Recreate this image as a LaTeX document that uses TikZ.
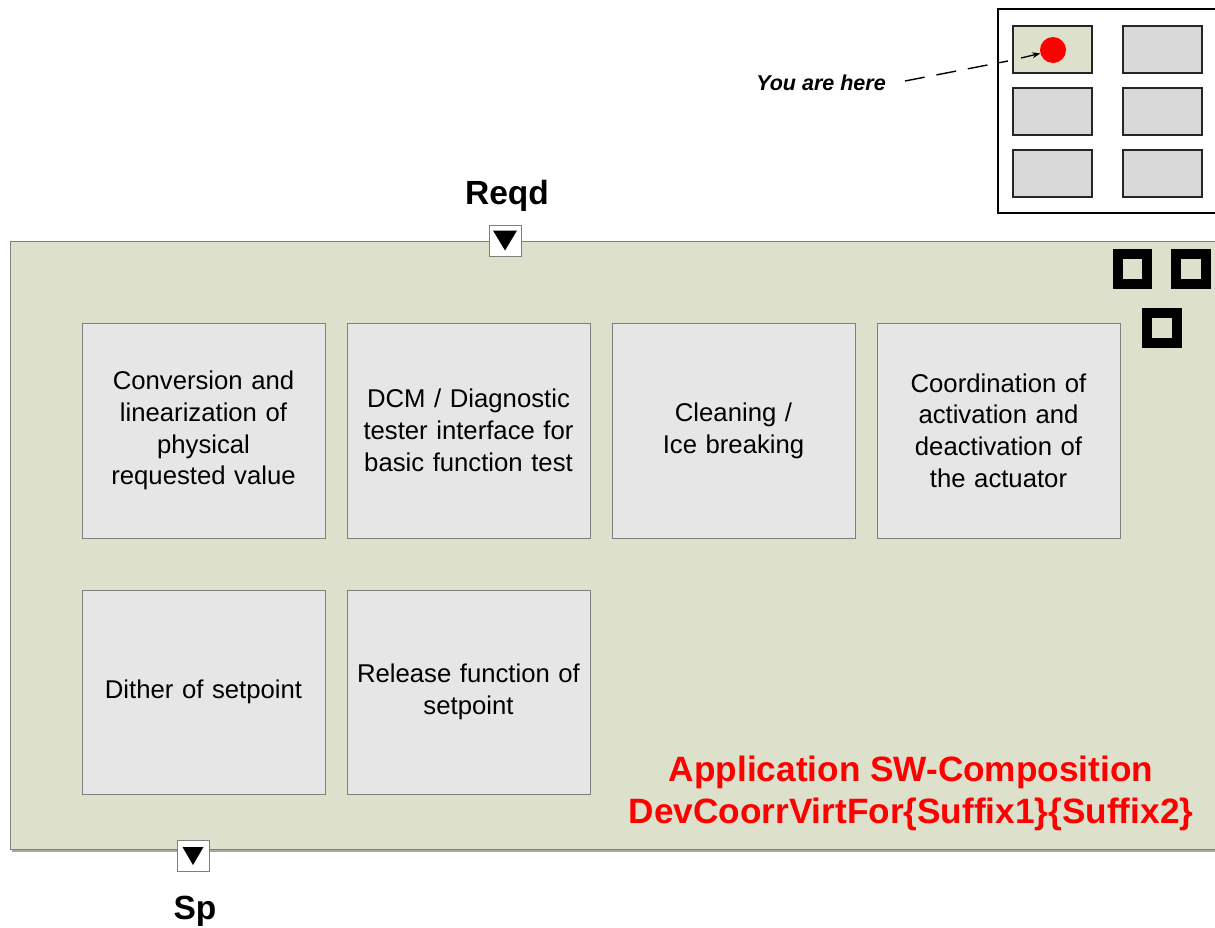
\documentclass[tikz,border=0pt]{standalone}
\usepackage{fontspec}
\setmainfont{Liberation Sans}
\usetikzlibrary{arrows.meta}
\definecolor{compfill}{HTML}{DDE1CC}
\definecolor{boxfill}{HTML}{E6E6E6}
\definecolor{boxline}{HTML}{7F7F7F}
\definecolor{minifill}{HTML}{D9D9D9}
\definecolor{shadowc}{HTML}{A8AAA0}
\definecolor{redtext}{HTML}{FF0000}
\begin{document}
\begin{tikzpicture}[x=1pt,y=-1pt,
  funcbox/.style={draw=boxline, fill=boxfill, line width=1pt, minimum width=243pt,
    text width=232pt, align=center, inner sep=0pt,
    font=\fontsize{25.7}{31.7}\selectfont},
  portbox/.style={draw=boxline, fill=white, line width=1pt, minimum width=32pt, minimum height=31pt, inner sep=0pt},
  minibox/.style={draw=black!85, line width=2pt, fill=minifill, minimum width=79pt, minimum height=47pt, inner sep=0pt},
  portlabel/.style={font=\fontsize{33.5}{40}\selectfont\bfseries},
  hollowsq/.style={draw=black, line width=10pt}
]
\useasboundingbox (0,0) rectangle (1215,927);
\clip (0,0) rectangle (1215,927);

% composition
\fill[shadowc] (12,244) rectangle (1240,852);
\draw[draw=boxline, fill=compfill, line width=1pt] (10,241) rectangle (1240,849);

% functional boxes
\node[funcbox, minimum height=215pt] (b1) at (203.5,430.5) {Conversion and\\linearization of\\physical\\requested value};
\node[funcbox, minimum height=215pt] (b2) at (468.5,430.5) {DCM / Diagnostic\\tester interface for\\basic function test};
\node[funcbox, minimum height=215pt] (b3) at (733.5,430.5) {Cleaning /\\Ice breaking};
\node[funcbox, minimum height=215pt] (b4) at (998.5,430.5) {Coordination of\\activation and\\deactivation of\\the actuator};
\node[funcbox, minimum height=204pt] (b5) at (203.5,692) {Dither of setpoint};
\node[funcbox, minimum height=204pt] (b6) at (468.5,692) {Release function of\\setpoint};

% composition title
\node[text=redtext, align=center, font=\fontsize{35.2}{42}\selectfont\bfseries] (title) at (911,793)
  {Application SW-Composition\\DevCoorrVirtFor\{Suffix1\}\{Suffix2\}};

% ports
\node[portbox] (preqd) at (505,240.5) {};
\fill ([shift={(-12,-10)}]preqd.center) -- ([shift={(12,-10)}]preqd.center) -- ([shift={(0,10)}]preqd.center) -- cycle;
\node[portlabel] (lreqd) at (507,196) {Reqd};
\node[portbox] (psp) at (193,856) {};
\fill ([shift={(-10.5,-9)}]psp.center) -- ([shift={(10.5,-9)}]psp.center) -- ([shift={(0,9)}]psp.center) -- cycle;
\node[portlabel] (lsp) at (195,911) {Sp};

% hollow squares icon
\draw[hollowsq] (1118,254) rectangle (1147,284);
\draw[hollowsq] (1176,254) rectangle (1206,284);
\draw[hollowsq] (1147,313) rectangle (1177,343);

% minimap
\draw[line width=2pt] (998,9) rectangle (1240,213);
\node[minibox, fill=compfill] (m1) at (1052.5,49.5) {};
\node[minibox] (m2) at (1162,49.5) {};
\node[minibox] (m3) at (1052.5,111.5) {};
\node[minibox] (m4) at (1162,111.5) {};
\node[minibox] (m5) at (1052.5,173) {};
\node[minibox] (m6) at (1162,173) {};
\node[circle, fill=red, minimum size=26pt, inner sep=0pt] (dot) at (1053,50) {};
\coordinate (arrstart) at (1021,58);
\draw[line width=1.3pt, -{Stealth[length=8pt,width=6pt]}] (arrstart) -- (dot.195);

\node[font=\fontsize{21.5}{25}\selectfont\bfseries\itshape] (here) at (821,83) {You are here};
\coordinate (dashstart) at (905,81);
\coordinate (dashend) at (1008,61);
\draw[line width=1.4pt, dash pattern=on 20pt off 12pt] (dashstart) -- (dashend);
\end{tikzpicture}
\end{document}
